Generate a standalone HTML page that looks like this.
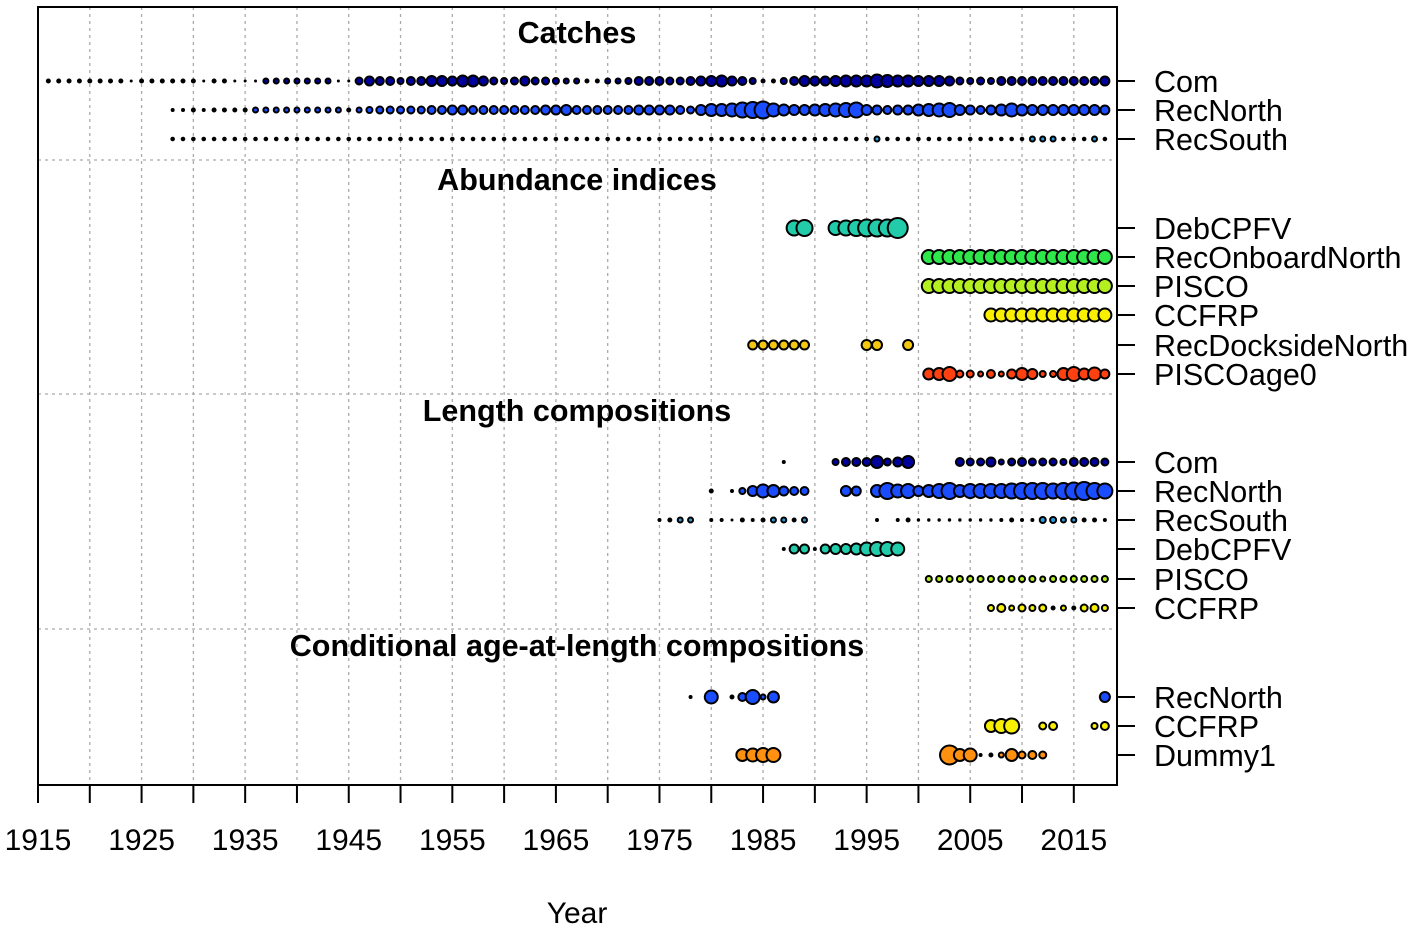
<!DOCTYPE html>
<html><head><meta charset="utf-8"><style>
body{margin:0;background:#fff}
svg{display:block;font-family:"Liberation Sans",sans-serif}
</style></head><body>
<svg id="chart" width="1417" height="932"></svg>
<script>
// ---- data ----
const rowLabels=["Com","RecNorth","RecSouth","DebCPFV","RecOnboardNorth","PISCO","CCFRP","RecDocksideNorth","PISCOage0","Com","RecNorth","RecSouth","DebCPFV","PISCO","CCFRP","RecNorth","CCFRP","Dummy1"];
const rowY=[81,110,139,228,257,286,315,345,374,462,491,520,549,579,608,697,726,755];
const rowColors=["#00009c","#1a4dff","#2a9be0","#22ccaa","#2ee84a","#b4f020","#f8f000","#f4c810","#ff4010","#00009c","#1a4dff","#2a9be0","#22ccaa","#b4f020","#f8f000","#1a4dff","#f8f000","#ff9010"];
const sections=["Catches","Abundance indices","Length compositions","Conditional age-at-length compositions"];
const sectionY=[33,180,411,646];
const sepY=[160,394,629];
const xTicks=[1915,1925,1935,1945,1955,1965,1975,1985,1995,2005,2015];
// per-row [startYear, sizes...]  (null = no data)
const catchCom=[1916,2,2,2,2,2,2,2,2,1,2,2,2,2,2,2,1,2,2,1,1,1,2.5,2.5,2.5,2.5,2.5,2.5,2.5,1,1,3.5,4.5,4,4,3,4,4,5,5,4.5,5.5,5.5,4.5,3.5,3,3.5,4.5,3.5,3.5,3,2.5,2.5,2,2,2.5,2.5,3,4,4,4,3.5,3.5,4,4.5,5,5.5,4.5,4,3,2,2,3,4,5,4.5,4.5,5,5.5,5.5,5.5,6.5,6,5.5,5.5,5,5,5,4.5,3.5,3,3.5,3,4,4,4,4,4,4,4,4,4,4,4.5];
const catchRecNorth=[1928,1.5,1.5,2,1.5,2,2,2,2,2.5,2.5,2.5,2.5,2.5,2.5,2.5,2.5,2.5,2,
2.5,3,3.5,3.5,3.5,3.5,3.5,4,4,4.5,4.5,4,4,4,4,4,4,4,4.5,4.5,5,
4,4,4,4,4,4,4.5,4.5,4.5,4.5,4,3.5,
5,6,6,6.5,7.5,8,8.5,6.5,5.5,5,5,5.5,6,6.5,7,7.5,
5,4.5,4,4.5,4.5,5.5,6,6.5,7,5,4.5,4,4.5,5.5,6.5,5.5,5,5,5,5,5,5,5,4.5];
const catchRecSouth=[1928,1.8,1.8,1.8,1.8,1.8,1.8,1.8,1.8,1.8,1.8,1.8,1.8,1.8,1.8,1.8,1.8,1.8,1.8,1.8,1.8,
1.8,1.8,1.8,1.8,1.8,1.8,1.8,1.8,1.8,1.8,1.8,1.8,1.8,1.8,1.8,1.8,1.8,1.8,1.8,1.8,
1.8,1.8,1.8,1.8,1.8,1.8,1.8,1.8,1.8,1.8,1.8,1.8,1.8,1.8,1.8,1.8,1.8,1.8,1.8,1.8,
1.8,1.8,1.8,1.8,1.8,1.8,1.8,1.8,
2.5,
1.8,1.8,1.8,1.8,1.8,1.8,1.8,1.8,1.8,1.8,1.8,1.8,1.8,1.8,
2.5,2.5,2.5,1.8,1.8,1.8,2.5,1.8];
const idxDeb=[1988,7.5,8,null,null,7,7.5,8,8.5,8.5,8.5,10];
const idxOnboard=[2001,7,7,7,7,7,7,7,7,7,7,7,7,7,7,7,7,7,7];
const idxPisco=[2001,7,7,7,7,7,7,7,7,7,7,7,7,7,7,7,7,7,7];
const idxCcfrp=[2007,6.5,6.5,6.5,6.5,6.5,6.5,6.5,6.5,6.5,6.5,6.5,6.5];
const idxDockside=[1984,4.5,4.5,4.5,4.5,4.5,4.5,null,null,null,null,null,5,5,null,null,5];
const idxPiscoAge0=[2001,5.5,6,7,3.5,3.5,2.5,4,2.5,4.5,6,5,3,3,6,7,5.5,6.5,4.5];
const lenCom=[1987,1.5,null,null,null,null,3,4,4,4,6,3.5,4.5,6,null,null,null,null,4,3.5,3.5,4.5,2.5,3.5,4,3.5,3.5,3.5,3,4,4,4,3.5];
const lenRecNorth=[1980,2,null,1.5,3,5,6.5,6,4.5,4,4,null,null,null,5,4.5,null,6,8,6.5,7,5,6,7,8,6,7,7,7,7,7.5,8,8,8,7.5,8,8.5,9,8,7.5];
const lenRecSouth=[1975,1.5,2,2.5,2.5,null,1.5,1.5,1,2,1.5,2,2.5,2.5,2,2.5,null,null,null,null,null,null,1.5,null,1.5,2,1.2,1.2,1.2,1.2,1.2,1.2,1.2,1.2,1.5,2,1.5,1.5,3,3,2.5,2.5,2,2,1.5];
const lenDeb=[1987,1.5,4.5,4.5,1.5,4.5,5,5,5.5,6.5,7,7,6.5];
const lenPisco=[2001,3,3,3,3,3,3,3,3,3,3,3,2.5,3,3,3,3,3,3];
const lenCcfrp=[2007,3,4,2.5,3.5,3,3.5,2,2.5,2,3.5,4,3];
const caalRecNorth=[1978,1.5,null,6.5,null,2,4,7,2.5,5.5,null,null,null,null,null,null,null,null,null,null,null,null,null,null,null,null,null,null,null,null,null,null,null,null,null,null,null,null,null,null,null,5];
const caalCcfrp=[2007,6,7,7.5,null,null,3.5,4,null,null,null,3,4];
const caalDummy=[1983,6,6.5,7,7,null,null,null,null,null,null,null,null,null,null,null,null,null,null,null,null,9.5,6,6.5,1.5,2,2.5,6,3.5,4,3.5];
const rowData=[catchCom,catchRecNorth,catchRecSouth,idxDeb,idxOnboard,idxPisco,idxCcfrp,idxDockside,idxPiscoAge0,lenCom,lenRecNorth,lenRecSouth,lenDeb,lenPisco,lenCcfrp,caalRecNorth,caalCcfrp,caalDummy];

// ---- axes ----
const L=38,R=1117,T=7,B=785,x0=1915,x1=2019.17;
const xs=y=>L+(y-x0)*(R-L)/(x1-x0);
const NS="http://www.w3.org/2000/svg";
const svg=document.getElementById('chart');
function mk(tag,attrs,parent){const e=document.createElementNS(NS,tag);for(const k in attrs)e.setAttribute(k,attrs[k]);(parent||svg).appendChild(e);return e;}

const grid=mk('g',{});


for(let y=1920;y<=2015;y+=5){const l=mk('line',{x1:xs(y),x2:xs(y),y1:T,y2:B,stroke:'#aaa','stroke-width':1.3,'stroke-dasharray':'3,4'},grid);

}
sepY.forEach((y,i)=>{const l=mk('line',{x1:L,x2:R,y1:y,y2:y,stroke:'#aaa','stroke-width':1.3,'stroke-dasharray':'3,4'},grid);

});

sections.forEach((s,i)=>{const t=mk('text',{x:577,y:sectionY[i]+10,'text-anchor':'middle','font-size':30.5,'font-weight':'bold'});t.textContent=s;

});

// bubbles
rowData.forEach((d,ri)=>{
  const g=mk('g',{});
  
  
  const start=d[0];
  for(let i=1;i<d.length;i++){const r=d[i];if(r==null)continue;
    const c=mk('circle',{cx:xs(start+i-1),cy:rowY[ri],r:r,fill:r<2.2?'#000':rowColors[ri],stroke:'#000','stroke-width':r<2.2?1:2},g);
    
    }
  const tk=mk('line',{x1:R,x2:1135,y1:rowY[ri],y2:rowY[ri],stroke:'#000','stroke-width':2});
  
  
  const t=mk('text',{x:1154,y:rowY[ri]+11,'font-size':30.5});t.textContent=rowLabels[ri];
  
  
});

const box=mk('rect',{x:L,y:T,width:R-L,height:B-T,fill:'none',stroke:'#000','stroke-width':2});


mk('line',{x1:L,x2:xs(2018),y1:B,y2:B,stroke:'#000','stroke-width':2});
for(let y=1915;y<=2018;y+=5){const l=mk('line',{x1:xs(y),x2:xs(y),y1:B,y2:803,stroke:'#000','stroke-width':2});

}
xTicks.forEach(y=>{const t=mk('text',{x:xs(y),y:850,'text-anchor':'middle','font-size':30});t.textContent=y;

});
const xt=mk('text',{x:577,y:923,'text-anchor':'middle','font-size':30});xt.textContent='Year';


</script>
</body></html>
